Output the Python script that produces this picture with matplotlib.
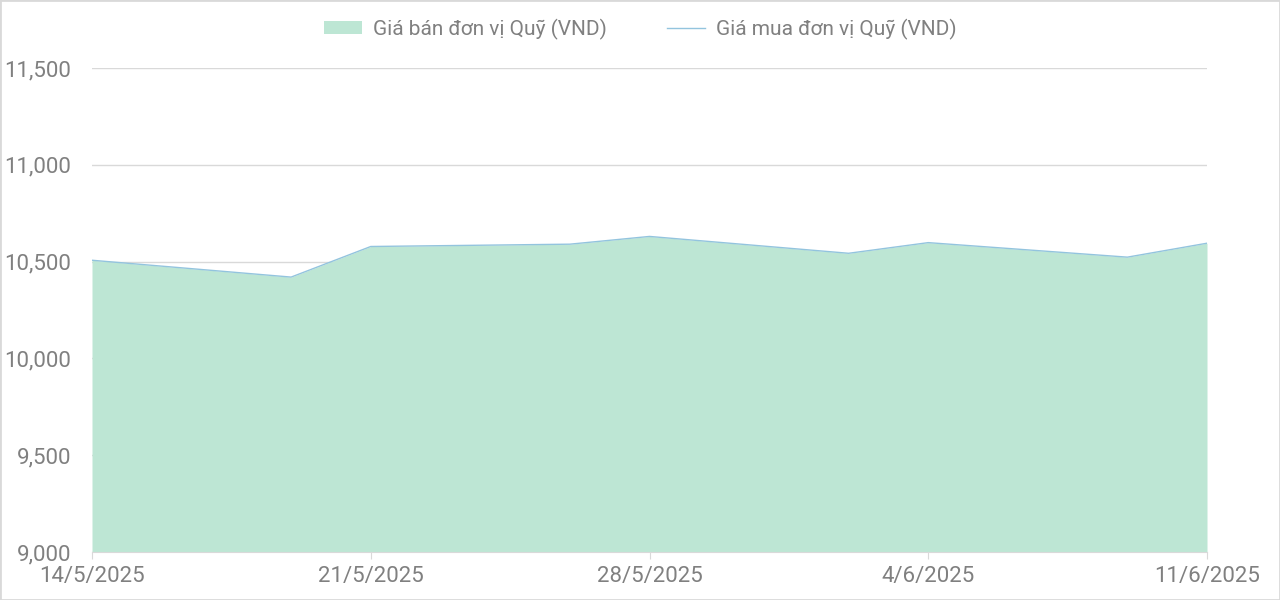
import matplotlib
matplotlib.use("Agg")
import matplotlib.pyplot as plt
import matplotlib.dates as mdates
from matplotlib.patches import Patch
from matplotlib.lines import Line2D
from datetime import date

plt.rcParams['font.family'] = ['Roboto', 'DejaVu Sans']

# data
dates = [date(2025, 5, 14), date(2025, 5, 19), date(2025, 5, 21), date(2025, 5, 26),
         date(2025, 5, 28), date(2025, 6, 2), date(2025, 6, 4), date(2025, 6, 9),
         date(2025, 6, 11)]
sell_price = [10507, 10420, 10578, 10590, 10630, 10543, 10598, 10523, 10595]
buy_price = [10507, 10420, 10578, 10590, 10630, 10543, 10598, 10523, 10595]

tick_dates = [date(2025, 5, 14), date(2025, 5, 21), date(2025, 5, 28),
              date(2025, 6, 4), date(2025, 6, 11)]
tick_labels = ['14/5/2025', '21/5/2025', '28/5/2025', '4/6/2025', '11/6/2025']
y_ticks = [9000, 9500, 10000, 10500, 11000, 11500]

fill_color = '#bde6d4'
line_color = '#93c4de'
text_color = '#808080'
grid_color = '#d9d9d9'

fig = plt.figure(figsize=(12.8, 6), dpi=100)
ax = fig.add_axes([92 / 1280, 48 / 600, (1207 - 92) / 1280, (552 - 68) / 600])

x = mdates.date2num(dates)
ax.fill_between(x, 9000, sell_price, color=fill_color, linewidth=0, zorder=2)
ax.plot(x, buy_price, color=line_color, linewidth=1.0, zorder=3)

ax.set_xlim(mdates.date2num(dates[0]), mdates.date2num(dates[-1]))
ax.set_ylim(9000, 11500)

ax.set_yticks(y_ticks)
ax.set_yticklabels([f'{v:,}' for v in y_ticks])
ax.set_xticks(mdates.date2num(tick_dates))
ax.set_xticklabels(tick_labels)

ax.grid(True, axis='y', color=grid_color, linewidth=1, zorder=1)
ax.set_axisbelow(True)
for s in ['top', 'right', 'left']:
    ax.spines[s].set_visible(False)
ax.spines['bottom'].set_color(grid_color)
ax.spines['bottom'].set_zorder(4)
ax.tick_params(axis='y', length=0, pad=15, labelsize=16, labelcolor=text_color)
ax.tick_params(axis='x', length=5, color=grid_color, pad=5, labelsize=16,
               labelcolor=text_color)

handles = [Patch(facecolor=fill_color, edgecolor='none'),
           Line2D([0], [0], color=line_color, linewidth=1)]
fig.legend(handles, ['Giá bán đơn vị Quỹ (VND)', 'Giá mua đơn vị Quỹ (VND)'],
           loc='center', bbox_to_anchor=(0.5, 1 - 29 / 600), ncol=2,
           frameon=False, fontsize=15, labelcolor=text_color,
           handlelength=1.82, handleheight=0.55, columnspacing=2.88, handletextpad=0.53)

# thin frame around the whole picture
fig.patches.append(plt.Rectangle((0, 0), 1, 1, transform=fig.transFigure,
                                 fill=False, edgecolor='#d9d9d9', linewidth=2))

plt.savefig('out.png', dpi=100)
